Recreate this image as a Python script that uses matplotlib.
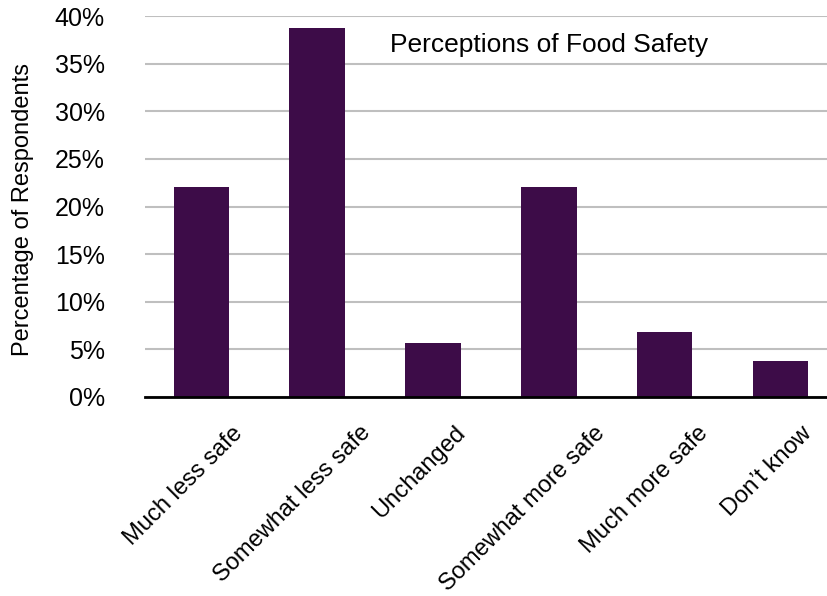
import matplotlib
matplotlib.use("Agg")
import matplotlib.pyplot as plt
import matplotlib.transforms as mtransforms
from matplotlib.ticker import FuncFormatter

categories = ["Much less safe", "Somewhat less safe", "Unchanged",
              "Somewhat more safe", "Much more safe", "Don\u2019t know"]
values = [22.0, 38.7, 5.7, 22.0, 6.8, 3.8]
yticks = [0, 5, 10, 15, 20, 25, 30, 35, 40]
title = "Perceptions of Food Safety"
ylabel = "Percentage of Respondents"

plt.rcParams['font.family'] = ['Liberation Sans', 'DejaVu Sans']

W, H = 828, 596
fig = plt.figure(figsize=(W / 100, H / 100), dpi=100)
ax = fig.add_axes([145 / W, (H - 397) / H, (W - 145) / W, (397 - 16) / H])

x = list(range(len(categories)))
ax.bar(x, values, width=0.48, color="#3d0c48", zorder=3)

ax.set_ylim(0, 40)
ax.set_xlim(-0.487, 5.41)
ax.set_yticks(yticks)
ax.yaxis.set_major_formatter(FuncFormatter(lambda v, p: f"{int(v)}%"))
ax.grid(axis="y", color="#bfbfbf", linewidth=1.5, zorder=0)
ax.set_axisbelow(True)
for s in ["top", "right", "left"]:
    ax.spines[s].set_visible(False)
ax.spines["bottom"].set_color("black")
ax.spines["bottom"].set_linewidth(2)
ax.spines["bottom"].set_zorder(4)

ax.tick_params(axis="y", length=0, labelsize=18, pad=29)
ax.set_xticks(x)
ax.tick_params(axis="x", length=0, labelbottom=False)

ax.set_ylabel(ylabel, fontsize=17)
ax.yaxis.set_label_coords(-0.1625, 0.492)
ax.text(0.359, 0.9055, title, transform=ax.transAxes, fontsize=19,
        ha="left", va="baseline")

# rotated category labels
base = mtransforms.blended_transform_factory(ax.transData, ax.transAxes)
labels = []
for xi, lab in zip(x, categories):
    t = ax.text(xi, 0, lab, transform=base, rotation=45, ha="right", va="top",
                fontsize=17, clip_on=False)
    labels.append(t)
fig.canvas.draw()
r = fig.canvas.get_renderer()
for t in labels:
    bb = t.get_window_extent(r)
    t.set_transform(mtransforms.offset_copy(base, fig, x=bb.width / 3.0 + 3,
                                            y=-25, units="dots"))

fig.savefig("out.png", dpi=100)
